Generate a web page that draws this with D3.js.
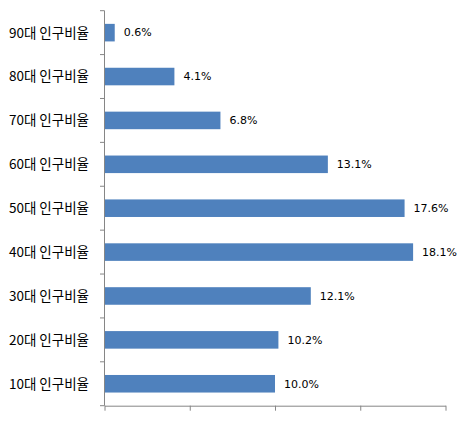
<!DOCTYPE html>
<html><head><meta charset="utf-8">
<script src="https://cdn.jsdelivr.net/npm/d3@7"></script>
<style>body{margin:0;background:#fff;}svg{display:block;}</style>
</head><body>
<svg id="c" width="472" height="421"></svg>
<script>
const categories = ["90대 인구비율","80대 인구비율","70대 인구비율","60대 인구비율","50대 인구비율","40대 인구비율","30대 인구비율","20대 인구비율","10대 인구비율"];
const values = [0.6, 4.1, 6.8, 13.1, 17.6, 18.1, 12.1, 10.2, 10.0];
const valueLabels = ["0.6%","4.1%","6.8%","13.1%","17.6%","18.1%","12.1%","10.2%","10.0%"];
const xTicks = [0, 5, 10, 15, 20];

(function(){
const svg = d3.select("#c");
const pl = 104.5, pr = 445.5, pt = 10.7, pb = 405.7;
const x = d3.scaleLinear().domain([0, 20]).range([pl, pr]);
const y = d3.scaleBand().domain(categories).range([pt, pb]).paddingInner(0.6).paddingOuter(0.3);
const axisColor = "#868686";

svg.selectAll("rect.bar").data(values).enter().append("rect")
  .attr("x", x(0)).attr("y", (d,i)=>y(categories[i]))
  .attr("width", d=>x(d)-x(0)).attr("height", y.bandwidth())
  .attr("fill", "#4F81BD");

svg.selectAll("text.val").data(values).enter().append("text")
  .attr("x", d=>x(d)+9).attr("y", (d,i)=>y(categories[i])+y.bandwidth()/2)
  .attr("dy", "0.35em")
  .attr("font-family", "DejaVu Sans, sans-serif").attr("font-size", 11)
  .attr("fill", "#000")
  .text((d,i)=>valueLabels[i]);

svg.selectAll("text.cat").data(categories).enter().append("text")
  .attr("x", 89).attr("y", d=>y(d)+y.bandwidth()/2)
  .attr("dy", "0.36em").attr("text-anchor", "end")
  .attr("font-family", "Noto Sans CJK KR, sans-serif").attr("font-size", 13.5)
  .attr("fill", "#000")
  .text(d=>d);

svg.append("line").attr("x1", pl).attr("x2", pl).attr("y1", pt).attr("y2", pb)
  .attr("stroke", axisColor).attr("stroke-width", 1);
const step = (pb - pt) / categories.length;
const bounds = d3.range(0, categories.length + 1).map(i => pt + i * step);
svg.selectAll("line.yt").data(bounds).enter().append("line")
  .attr("x1", pl - 4.5).attr("x2", pl).attr("y1", d=>d).attr("y2", d=>d)
  .attr("stroke", axisColor);

const xAxis = d3.axisBottom(x).tickValues(xTicks).tickSize(5).tickFormat("").tickSizeOuter(0);
const gx = svg.append("g").attr("transform", `translate(0,${pb})`).call(xAxis);
gx.select(".domain").attr("stroke", axisColor);
gx.selectAll(".tick line").attr("stroke", axisColor);
})();
</script>
</body></html>
